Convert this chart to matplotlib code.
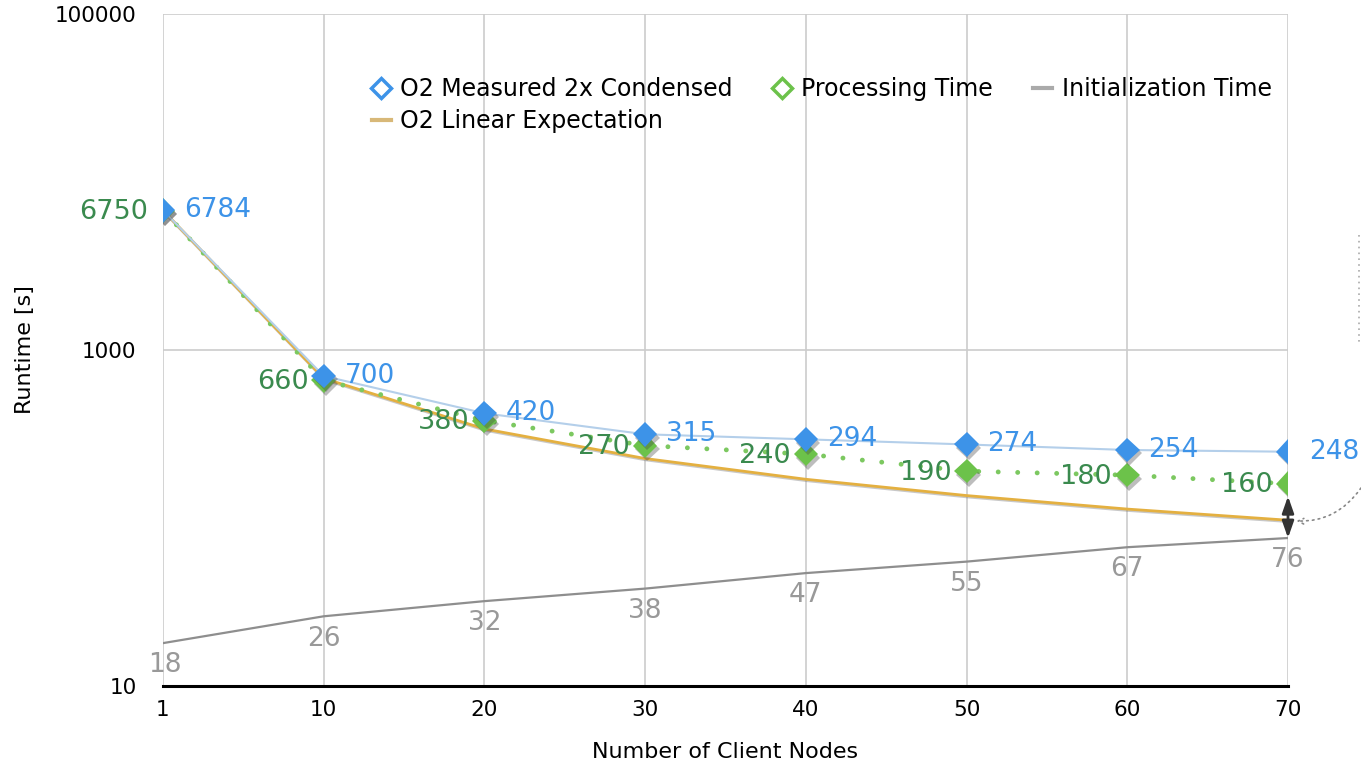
import numpy as np
import matplotlib
matplotlib.use("Agg")
import matplotlib.pyplot as plt
from matplotlib.lines import Line2D
import matplotlib.patheffects as pe

plt.rcParams['font.family'] = ['DejaVu Sans']

nodes = ["1", "10", "20", "30", "40", "50", "60", "70"]
measured = [6784, 700, 420, 315, 294, 274, 254, 248]
processing = [6750, 660, 380, 270, 240, 190, 180, 160]
init_time = [18, 26, 32, 38, 47, 55, 67, 76]
linear_exp = [6784, 678, 339, 226, 170, 136, 113, 97]

blue = "#3d93e8"
blue_line = "#b4cfea"
green = "#6cc24a"
green_dot = "#7cc860"
green_txt = "#3a8a4e"
gray = "#8e8e8e"
gold = "#e4b040"

x = np.arange(len(nodes))

fig = plt.figure(figsize=(13.61, 7.66), dpi=100)
ax = fig.add_axes([163/1361, 80/766, (1288-163)/1361, (686-14)/766])

shadow = [pe.SimplePatchShadow(offset=(1.5, -2.5), shadow_rgbFace="#444444", alpha=0.35), pe.Normal()]

ax.plot(x, init_time, color=gray, lw=1.6, zorder=3)
ax.plot(x, linear_exp, color=gold, lw=2, zorder=4,
        path_effects=[pe.SimpleLineShadow(offset=(0.5, -1), shadow_color="#777777", alpha=0.4), pe.Normal()])
ax.plot(x, processing, color=green_dot, lw=3.5, linestyle=(0, (0.01, 4.0)), dash_capstyle="round",
        zorder=5)
ax.plot(x, processing, color=green, linestyle="none", marker="D", ms=12.5, markeredgewidth=0, zorder=6,
        path_effects=shadow)
ax.plot(x, measured, color=blue_line, lw=1.5, zorder=7)
ax.plot(x, measured, color=blue, linestyle="none", marker="D", ms=12.5, markeredgewidth=0, zorder=8,
        path_effects=shadow)

for i in range(len(x)):
    ax.annotate(str(measured[i]), (x[i], measured[i]), xytext=(15, 0), textcoords="offset points",
                ha="left", va="center", fontsize=19, color=blue, zorder=10)
    ax.annotate(str(processing[i]), (x[i], processing[i]), xytext=(-11, -1), textcoords="offset points",
                ha="right", va="center", fontsize=19.5, color=green_txt, zorder=10)
    dx = 1.5 if i == 0 else 0
    ax.annotate(str(init_time[i]), (x[i], init_time[i]), xytext=(dx, -16), textcoords="offset points",
                ha="center", va="center", fontsize=19, color="#999999", zorder=10)

# gap marker between processing and initialization at 70 nodes
ax.annotate("", xy=(x[-1], init_time[-1]), xytext=(x[-1], processing[-1]),
            arrowprops=dict(arrowstyle="<|-|>,head_length=1.0,head_width=0.35", color="#333333",
                            lw=2, shrinkA=9, shrinkB=0), zorder=9)
ax.annotate("", xy=(x[-1], linear_exp[-1]), xytext=(1.0, (766-488)/766), textcoords="figure fraction",
            xycoords="data",
            arrowprops=dict(arrowstyle="->", color="#888888", lw=1.2, linestyle=(0, (1, 2.5)),
                            connectionstyle="arc3,rad=-0.3", shrinkA=0, shrinkB=6),
            annotation_clip=False)
fig.add_artist(Line2D([1359/1361, 1359/1361], [(766-235)/766, (766-345)/766],
                      color="#aaaaaa", lw=1.2, linestyle=(0, (1, 2.5))))

ax.set_yscale("log")
ax.set_ylim(10, 100000)
ax.set_xlim(0, len(nodes) - 1)
ax.set_yticks([10, 1000, 100000])
ax.set_yticklabels(["10", "1000", "100000"])
ax.yaxis.set_minor_locator(matplotlib.ticker.NullLocator())
ax.set_xticks(x)
ax.set_xticklabels(nodes)
ax.tick_params(axis="both", length=0, labelsize=15.5)
ax.tick_params(axis="y", pad=19)
ax.tick_params(axis="x", pad=10)

ax.grid(True, color="#cccccc", lw=1.2)
ax.set_axisbelow(True)
for s in ["top", "right", "left"]:
    ax.spines[s].set_visible(False)
ax.spines["bottom"].set_color("black")
ax.spines["bottom"].set_linewidth(2.2)
ax.spines["bottom"].set_zorder(2)

ax.set_xlabel("Number of Client Nodes", fontsize=16, labelpad=16)
ax.set_ylabel("Runtime [s]", fontsize=16, labelpad=14)

handles = [
    Line2D([], [], color=blue, marker="D", ms=10, markerfacecolor="white", markeredgewidth=2.5, lw=0),
    Line2D([], [], color="#d8b878", lw=3),
    Line2D([], [], color=green, marker="D", ms=10, markerfacecolor="white", markeredgewidth=2.5, lw=0),
    Line2D([], [], color="#aaaaaa", lw=3),
]
labels = ["O2 Measured 2x Condensed", "O2 Linear Expectation", "Processing Time", "Initialization Time"]
fig.legend(handles, labels, ncol=3, loc="upper left", bbox_to_anchor=(372/1361, (766-77)/766),
           frameon=False, fontsize=17, handlelength=0.8, handletextpad=0.4, columnspacing=1.7,
           labelspacing=0.35, borderaxespad=0, borderpad=0)

fig.savefig("out.png", dpi=100)
